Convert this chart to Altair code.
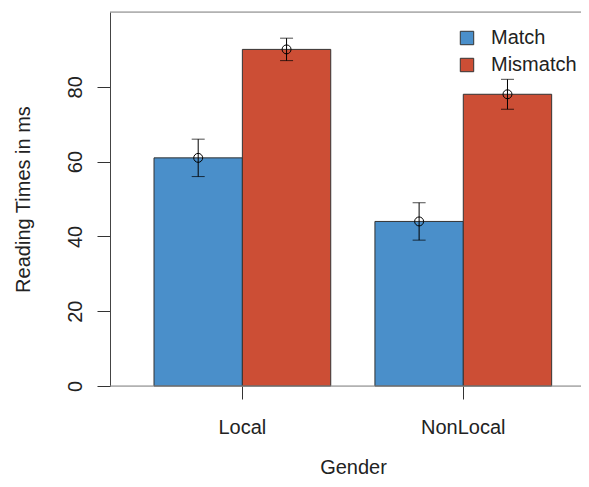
import altair as alt
import pandas as pd

genders = ["Local", "Local", "NonLocal", "NonLocal"]
conditions = ["Match", "Mismatch", "Match", "Mismatch"]
means = [61, 90, 44, 78]
lows = [56, 87, 39, 74]
highs = [66, 93, 49, 82]

y_ticks = [0, 20, 40, 60, 80]
colors = ["#4A8FCA", "#CC4E35"]

df = pd.DataFrame({"Gender": genders, "Condition": conditions,
                   "mean": means, "lo": lows, "hi": highs})

FONT = "Liberation Sans"
W, H = 471, 374

x_enc = alt.X("Gender:N", title="Gender",
              scale=alt.Scale(paddingInner=0.2, paddingOuter=0.166, align=0.6),
              axis=alt.Axis(labelAngle=0, domain=False, tickSize=13, tickColor="#333",
                            labelFontSize=20, labelFont=FONT, labelColor="#222",
                            labelBaseline="alphabetic", labelPadding=34,
                            titleFontSize=20, titleFont=FONT, titleColor="#222",
                            titleFontWeight="normal", titleX=243, titleY=87,
                            titleAlign="center", titleBaseline="alphabetic"))
xo = alt.XOffset("Condition:N", sort=["Match", "Mismatch"])
y_scale = alt.Scale(domain=[0, 100], nice=False, zero=True)

bars = alt.Chart(df).mark_bar(stroke="#333", strokeWidth=1, opacity=1).encode(
    x=x_enc,
    xOffset=xo,
    y=alt.Y("mean:Q", scale=y_scale, title="Reading Times in ms",
            axis=alt.Axis(values=y_ticks, grid=False, tickSize=13, tickColor="#333",
                          domainColor="#444", labelAngle=270, labelAlign="center",
                          labelBaseline="alphabetic", labelPadding=16,
                          labelFontSize=20, labelFont=FONT, labelColor="#222",
                          titleFontSize=20, titleFont=FONT, titleColor="#222",
                          titleFontWeight="normal", titleAngle=270, titleAlign="center",
                          titleBaseline="alphabetic", titleX=-81, titleY=187)),
    color=alt.Color("Condition:N", sort=["Match", "Mismatch"],
                    scale=alt.Scale(domain=["Match", "Mismatch"], range=colors),
                    legend=alt.Legend(title=None, orient="none", legendX=347, legendY=16,
                                      padding=0, symbolType="square", symbolSize=180,
                                      symbolStrokeColor="#333", symbolStrokeWidth=1,
                                      symbolOpacity=1, labelFontSize=20, labelFont=FONT,
                                      labelColor="#222", labelOffset=14, rowPadding=7,
                                      labelLimit=200)),
)

err = alt.Chart(df).mark_rule(color="black", strokeWidth=1).encode(
    x="Gender:N", xOffset=xo, y=alt.Y("lo:Q", scale=y_scale), y2="hi:Q")

cap_lo = alt.Chart(df).mark_tick(color="black", thickness=1, size=13).encode(
    x="Gender:N", xOffset=xo, y=alt.Y("lo:Q", scale=y_scale))
cap_hi = alt.Chart(df).mark_tick(color="black", thickness=1, size=13).encode(
    x="Gender:N", xOffset=xo, y=alt.Y("hi:Q", scale=y_scale))

pts = alt.Chart(df).mark_point(shape="circle", filled=False, color="black",
                               size=80, strokeWidth=1, opacity=1).encode(
    x="Gender:N", xOffset=xo, y=alt.Y("mean:Q", scale=y_scale))

frame_df = pd.DataFrame({"v": [0, 100]})
frame = alt.Chart(frame_df).mark_rule(color="#888", strokeWidth=1).encode(
    y=alt.Y("v:Q", scale=y_scale), x=alt.value(0), x2=alt.value(W))

chart = alt.layer(bars, err, cap_lo, cap_hi, pts, frame).properties(
    width=W, height=H,
    autosize=alt.AutoSizeParams(type="none"),
    padding={"left": 102, "top": 4, "right": 0, "bottom": 93},
).configure_view(stroke=None).configure(background="white")

chart.save("out.html", embed_options={"renderer": "svg", "actions": False})
